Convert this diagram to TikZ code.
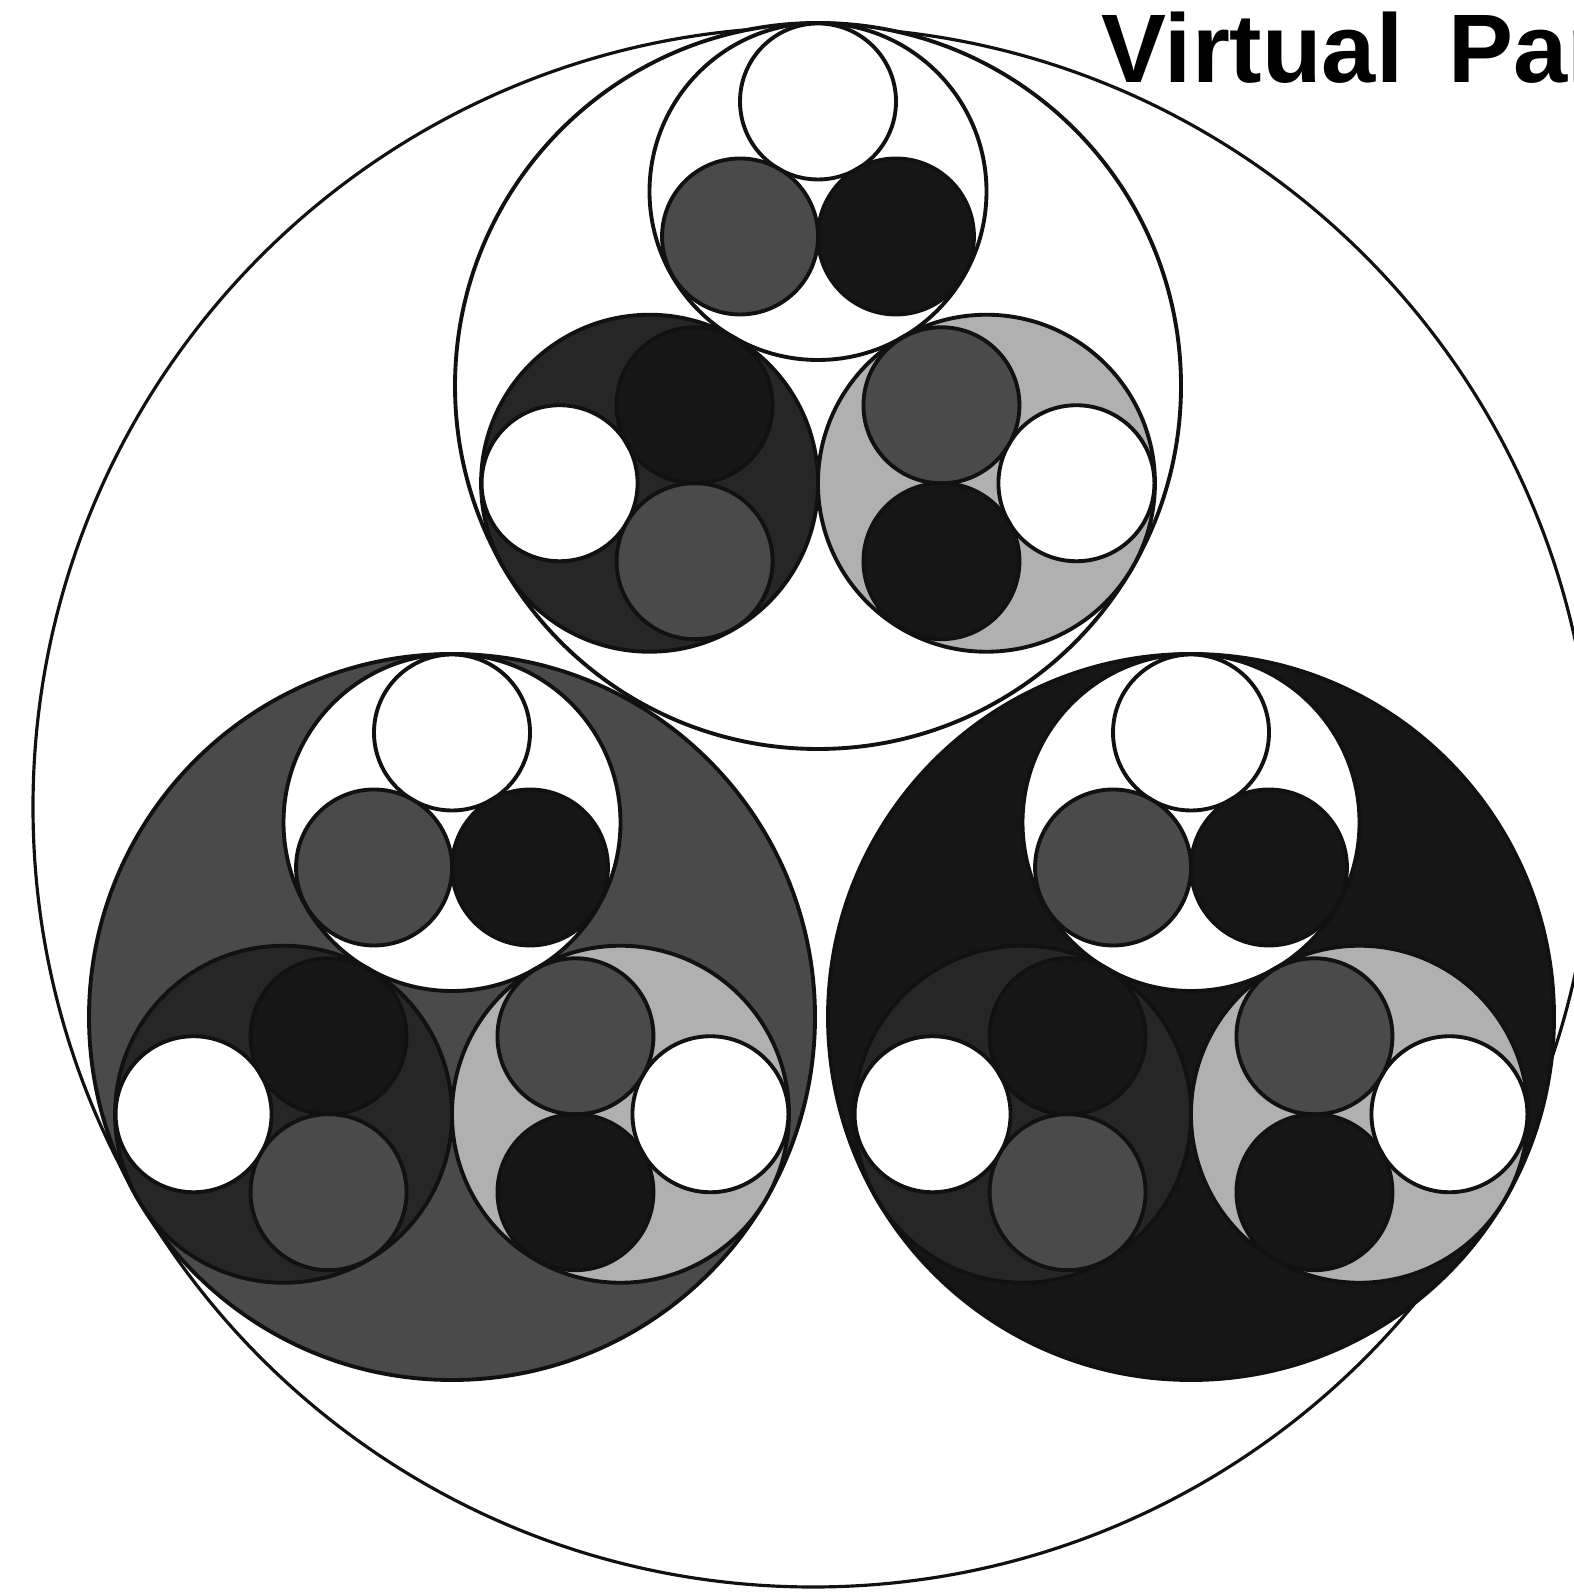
\documentclass[tikz,border=0pt]{standalone}
\usepackage{fontspec}
\setmainfont{Liberation Sans}
\usetikzlibrary{calc}
\definecolor{discgrey}{HTML}{4A4A4A}
\definecolor{discblack}{HTML}{161616}
\definecolor{darkstip}{HTML}{262626}
\definecolor{lightstip}{HTML}{B0B0B0}
\definecolor{rimline}{HTML}{111111}
\tikzset{
  rim/.style={draw=rimline, line width=1.1pt},
  whitedisc/.style={rim, fill=white},
  greydisc/.style={rim, fill=discgrey},
  blackdisc/.style={rim, fill=discblack},
  darkdisc/.style={rim, fill=darkstip},
  stipdisc/.style={rim, fill=lightstip},
  outerrim/.style={draw=rimline, line width=0.9pt, fill=white},
  heading/.style={font=\fontsize{27.7}{30}\selectfont\bfseries, anchor=base west, inner sep=0pt}
}
% three smallest discs inside one level-3 disc
\newcommand{\smalltrio}[2]{%
  \begin{scope}[shift={(#1)}, rotate=#2]
    \draw[whitedisc] (90:90)  circle (78);
    \draw[greydisc]  (210:90) circle (78);
    \draw[blackdisc] (330:90) circle (78);
  \end{scope}}
% one level-2 disc with its children
\newcommand{\cluster}[3]{%
  \draw[#3] (#1,#2) circle (363);
  \begin{scope}[shift={(#1,#2)}]
    \draw[whitedisc] (90:194.5)  circle (168.5);
    \draw[darkdisc]  (210:194.5) circle (168.5);
    \draw[stipdisc]  (330:194.5) circle (168.5);
    \smalltrio{90:194.5}{0}
    \smalltrio{210:194.5}{90}
    \smalltrio{330:194.5}{-90}
  \end{scope}}

\begin{document}
\begin{tikzpicture}[x=0.01cm, y=0.01cm]
  \useasboundingbox (0,0) rectangle (1574,1594);
  \clip (0,0) rectangle (1574,1594);
  \fill[white] (0,0) rectangle (1574,1594);
  % outer ring
  \draw[outerrim] (813,787) circle (780);
  % level-2 discs
  \cluster{818}{1208}{whitedisc}
  \cluster{452}{577}{greydisc}
  \cluster{1191}{577}{blackdisc}
  \node[heading] (title) at (1101,1511) {Virtual\hskip0.45cm Par};
\end{tikzpicture}
\end{document}
